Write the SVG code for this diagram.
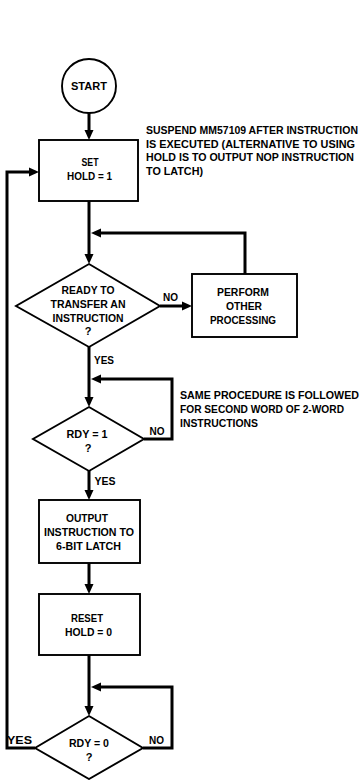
<svg xmlns="http://www.w3.org/2000/svg" width="363" height="780" viewBox="0 0 363 780">
<defs>
<style>
.shape{fill:#fff;stroke:#000;stroke-width:1.9}
.conn{fill:none;stroke:#000;stroke-width:3;stroke-linejoin:miter}
text{font-family:"Liberation Sans",Arial,sans-serif;font-weight:bold;font-size:11px;fill:#000}
.note{font-size:10.4px}
.c{text-anchor:middle}
</style>
<marker id="arr" markerUnits="userSpaceOnUse" markerWidth="11" markerHeight="10" refX="0" refY="5" orient="auto">
<path d="M0,0.5 L10,5 L0,9.5 z" fill="#000"/>
</marker>
</defs>
<rect width="363" height="780" fill="#fff"/>
<g id="connectors">
<path class="conn" d="M89,113 V130" marker-end="url(#arr)"/>
<path class="conn" d="M89,201 V254" marker-end="url(#arr)"/>
<path class="conn" d="M245,274 V233 H101" marker-end="url(#arr)"/>
<path class="conn" d="M160,306 H182" marker-end="url(#arr)"/>
<path class="conn" d="M89,347 V397" marker-end="url(#arr)"/>
<path class="conn" d="M144,439 H172 V379 H101" marker-end="url(#arr)"/>
<path class="conn" d="M89,471 V490" marker-end="url(#arr)"/>
<path class="conn" d="M89,563 V584" marker-end="url(#arr)"/>
<path class="conn" d="M89,655 V706" marker-end="url(#arr)"/>
<path class="conn" d="M143,748 H172 V687 H101" marker-end="url(#arr)"/>
<path class="conn" d="M35,748 H7 V172 H29" marker-end="url(#arr)"/>
<text x="170.5" y="301" class="c" textLength="15" lengthAdjust="spacingAndGlyphs">NO</text>
<text x="104" y="364" class="c" textLength="20" lengthAdjust="spacingAndGlyphs">YES</text>
<text x="157" y="435" class="c" textLength="15" lengthAdjust="spacingAndGlyphs">NO</text>
<text x="105" y="485" class="c" textLength="21" lengthAdjust="spacingAndGlyphs">YES</text>
<text x="19.5" y="744" class="c" textLength="25" lengthAdjust="spacingAndGlyphs">YES</text>
<text x="156.5" y="744" class="c" textLength="15" lengthAdjust="spacingAndGlyphs">NO</text>
</g>
<g id="start">
<circle class="shape" cx="89" cy="86" r="27"/>
<text x="89" y="90" class="c" textLength="36" lengthAdjust="spacingAndGlyphs">START</text>
</g>
<g id="set-hold">
<rect class="shape" x="39" y="140" width="99" height="61"/>
<text x="90" y="166" class="c" textLength="17" lengthAdjust="spacingAndGlyphs">SET</text>
<text x="89.5" y="180" class="c" textLength="45" lengthAdjust="spacingAndGlyphs">HOLD = 1</text>
</g>
<g id="note-suspend">
<text class="note" x="146" y="134" textLength="212" lengthAdjust="spacingAndGlyphs">SUSPEND MM57109 AFTER INSTRUCTION</text>
<text class="note" x="146" y="147.5" textLength="209" lengthAdjust="spacingAndGlyphs">IS EXECUTED (ALTERNATIVE TO USING</text>
<text class="note" x="146" y="161" textLength="208" lengthAdjust="spacingAndGlyphs">HOLD IS TO OUTPUT NOP INSTRUCTION</text>
<text class="note" x="146" y="174.5" textLength="57" lengthAdjust="spacingAndGlyphs">TO LATCH)</text>
</g>
<g id="ready">
<polygon class="shape" points="89,264 160,306 89,347 16,306"/>
<text x="88" y="294" class="c" textLength="53" lengthAdjust="spacingAndGlyphs">READY TO</text>
<text x="88" y="308" class="c" textLength="75" lengthAdjust="spacingAndGlyphs">TRANSFER AN</text>
<text x="88" y="321.5" class="c" textLength="71" lengthAdjust="spacingAndGlyphs">INSTRUCTION</text>
<text x="88" y="335" class="c">?</text>
</g>
<g id="perform">
<rect class="shape" x="192" y="274" width="105" height="63"/>
<text x="243" y="296" class="c" textLength="52" lengthAdjust="spacingAndGlyphs">PERFORM</text>
<text x="244" y="310" class="c" textLength="36" lengthAdjust="spacingAndGlyphs">OTHER</text>
<text x="243" y="324" class="c" textLength="66" lengthAdjust="spacingAndGlyphs">PROCESSING</text>
</g>
<g id="note-same">
<text class="note" x="180" y="399" textLength="179" lengthAdjust="spacingAndGlyphs">SAME PROCEDURE IS FOLLOWED</text>
<text class="note" x="180" y="413" textLength="164" lengthAdjust="spacingAndGlyphs">FOR SECOND WORD OF 2-WORD</text>
<text class="note" x="180" y="427" textLength="78" lengthAdjust="spacingAndGlyphs">INSTRUCTIONS</text>
</g>
<g id="rdy1">
<polygon class="shape" points="89,407 144,439 89,471 33,439"/>
<text x="87" y="438" class="c" textLength="41" lengthAdjust="spacingAndGlyphs">RDY = 1</text>
<text x="88" y="452" class="c">?</text>
</g>
<g id="output">
<rect class="shape" x="39" y="500" width="101" height="63"/>
<text x="87" y="522" class="c" textLength="42" lengthAdjust="spacingAndGlyphs">OUTPUT</text>
<text x="89" y="536" class="c" textLength="90" lengthAdjust="spacingAndGlyphs">INSTRUCTION TO</text>
<text x="88.5" y="550" class="c" textLength="65" lengthAdjust="spacingAndGlyphs">6-BIT LATCH</text>
</g>
<g id="reset">
<rect class="shape" x="39" y="594" width="101" height="61"/>
<text x="87" y="622" class="c" textLength="32" lengthAdjust="spacingAndGlyphs">RESET</text>
<text x="88.5" y="636" class="c" textLength="47" lengthAdjust="spacingAndGlyphs">HOLD = 0</text>
</g>
<g id="rdy0">
<polygon class="shape" points="89,716 143,748 89,779 35,748"/>
<text x="89" y="747" class="c" textLength="40" lengthAdjust="spacingAndGlyphs">RDY = 0</text>
<text x="89" y="760.5" class="c">?</text>
</g>
</svg>
